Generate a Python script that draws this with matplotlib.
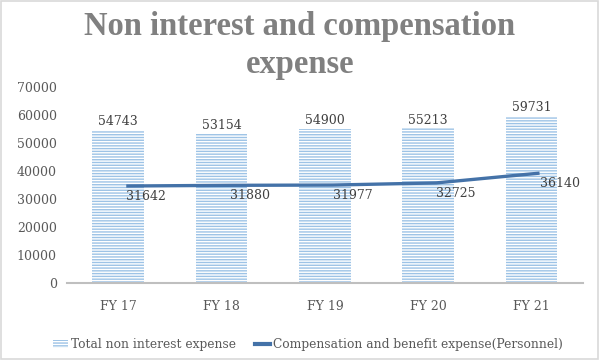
import numpy as np
import matplotlib.pyplot as plt
import matplotlib.transforms as mtrans
from matplotlib.lines import Line2D
from matplotlib.patches import Patch, Rectangle

years = ["FY 17", "FY 18", "FY 19", "FY 20", "FY 21"]
total_nonint = [54743, 53154, 54900, 55213, 59731]
personnel = [31642, 31880, 31977, 32725, 36140]

bar_col = "#9DC3E6"
line_col = "#4472A8"
txt_col = "#595959"
lab_col = "#404040"

plt.rcParams['font.family'] = ["DejaVu Serif"]
plt.rcParams['hatch.color'] = bar_col
plt.rcParams['hatch.linewidth'] = 1.0

fig = plt.figure(figsize=(6, 3.6), dpi=100)
ax = fig.add_axes([0.111, 0.214, 0.861, 0.544])

x = np.arange(len(years))
ax.bar(x, total_nonint, width=0.5, color="white", edgecolor=bar_col,
       hatch="------", linewidth=0)
for xi, v in zip(x, total_nonint):
    ax.text(xi, v + 700, str(v), ha="center", va="bottom", fontsize=9, color=lab_col)

ax.set_ylim(0, 70000)
ax.set_yticks(range(0, 70001, 10000))
ax.set_xlim(-0.5, len(years) - 0.5)
ax.set_xticks(x)
ax.set_xticklabels(years)
ax.tick_params(axis="both", length=0, labelsize=9, colors=txt_col)
ax.tick_params(axis="x", pad=12)
ax.tick_params(axis="y", pad=7)
for s in ["top", "right", "left"]:
    ax.spines[s].set_visible(False)
ax.spines["bottom"].set_color("#BFBFBF")
ax.spines["bottom"].set_linewidth(1.5)

# line sits on a hidden secondary scale, shifted a little right like the original
ax2 = ax.twinx()
ax2.set_ylim(-2240, 66200)
ax2.axis("off")
shift = mtrans.offset_copy(ax2.transData, fig=fig, x=8, y=0, units="dots")
ax2.plot(x, personnel, color=line_col, linewidth=2.4, solid_capstyle="butt",
         transform=shift)
for xi, v in zip(x, personnel):
    ax2.annotate(str(v), (xi, v), xycoords=shift, xytext=(0, -3),
                 textcoords="offset points", ha="left", va="top",
                 fontsize=9, color=lab_col)

fig.text(0.5, 1 - 34.5 / 360, "Non interest and compensation", ha="center",
         va="baseline", fontsize=23.5, fontweight="bold", color="#808080",
         family="Liberation Serif")
fig.text(0.5, 1 - 72.5 / 360, "expense", ha="center", va="baseline",
         fontsize=23.5, fontweight="bold", color="#808080",
         family="Liberation Serif")

handles = [Patch(facecolor="white", edgecolor=bar_col, hatch="------", linewidth=0),
           Line2D([0], [0], color=line_col, linewidth=3)]
fig.legend(handles, ["Total non interest expense",
                     "Compensation and benefit expense(Personnel)"],
           loc="center", bbox_to_anchor=(0.513, 0.042), ncol=2, frameon=False,
           fontsize=8.8, labelcolor=txt_col, handlelength=1.2, handletextpad=0.25,
           columnspacing=1.6, borderpad=0)

fig.patches.append(Rectangle((0.002, 0.003), 0.995, 0.993, transform=fig.transFigure,
                             fill=False, edgecolor="#D9D9D9", linewidth=1.2))

fig.savefig("out.png", dpi=100)
